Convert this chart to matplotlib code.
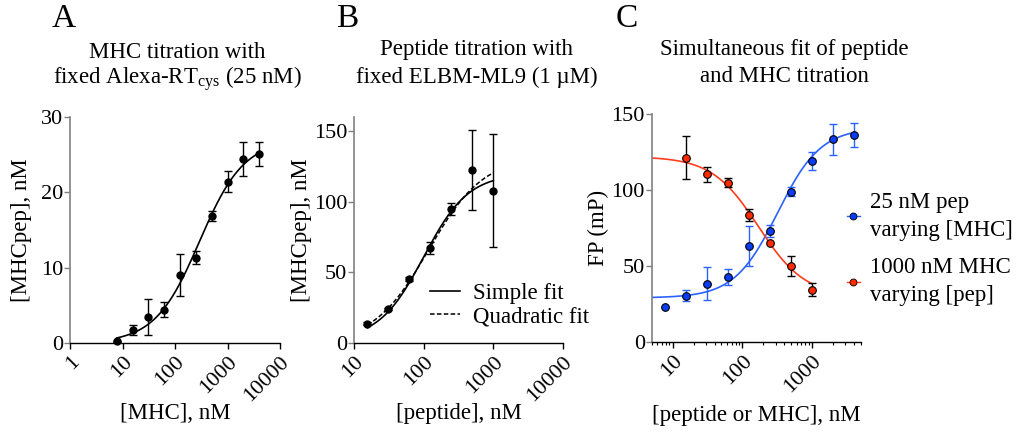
import numpy as np
import matplotlib
matplotlib.use("Agg")
import matplotlib.pyplot as plt
from matplotlib.ticker import LogLocator, NullFormatter, FixedLocator, FixedFormatter
from matplotlib.lines import Line2D

plt.rcParams['font.family'] = ['Liberation Serif', 'DejaVu Serif']
plt.rcParams['mathtext.fontset'] = 'custom'
plt.rcParams['mathtext.rm'] = 'Liberation Serif'

# ---------------- data ----------------
# Panel A: MHC titration
a_x = [7.8, 15.6, 31.25, 62.5, 125, 250, 500, 1000, 2000, 4000]
a_y = [0.2, 1.7, 3.5, 4.4, 9.0, 11.3, 16.9, 21.4, 24.4, 25.1]
a_err = [0.1, 0.7, 2.4, 1.0, 2.8, 0.85, 0.65, 1.4, 2.25, 1.6]
# fit parameters (quadratic binding): total probe, Kd
a_fit_P, a_fit_Kd = 27.0, 280.0

# Panel B: peptide titration
b_x = [15.6, 31.25, 62.5, 125, 250, 500, 1000]
b_y = [13.6, 24.1, 45.2, 67.2, 94.8, 122.5, 107.7]
b_err = [1.0, 1.0, 1.5, 4.5, 4.5, 28.6, 40.0]
# Simple fit (Hill): bottom, top, EC50, hill
b_simple = (2.0, 120.0, 100.0, 1.35)
# Quadratic fit: bottom, top, EC50, hill
b_quad = (0.0, 132.0, 118.0, 1.1)

# Panel C: simultaneous fit
c_blue_x = [7.8, 15.6, 31.25, 62.5, 125, 250, 500, 1000, 2000, 4000]
c_blue_y = [23.1, 30.3, 38.4, 42.8, 63.0, 73.3, 99.0, 119.2, 133.3, 136.1]
c_blue_err = [0.0, 3.6, 11.0, 5.0, 13.0, 4.0, 3.0, 6.0, 10.0, 7.7]
c_red_x = [15.6, 31.25, 62.5, 125, 250, 500, 1000]
c_red_y = [121.2, 110.2, 104.7, 83.4, 65.2, 50.1, 34.5]
c_red_err = [14.0, 5.0, 3.0, 4.0, 0.0, 6.5, 4.4]
# fits: value at low x, value at high x, EC50, hill
c_blue_fit = (29.0, 141.0, 320.0, 1.4)
c_red_fit = (122.0, 30.0, 170.0, 1.3)

blue_m = '#0b3cf5'
blue_l = '#2a62ff'
red_m = '#ff2a00'
red_l = '#ff3c1e'


def hill(x, p):
    b, t, ec, h = p
    return b + (t - b) * x**h / (ec**h + x**h)


def quad_bind(x, P, Kd):
    s = P + x + Kd
    return (s - np.sqrt(s**2 - 4 * P * x)) / 2


fig = plt.figure(figsize=(10.17, 4.36), dpi=100)
W, H = 1017, 436

TICK_FS = 16
LAB_FS = 16.5
TITLE_FS = 16.5


def mkax(x0, x1, ytop, ybot):
    return fig.add_axes([x0 / W, 1 - ybot / H, (x1 - x0) / W, (ybot - ytop) / H])


def style(ax, xlim, ylim, yticks, xtickvals):
    ax.set_xscale('log')
    ax.set_xlim(*xlim)
    ax.set_ylim(*ylim)
    for s in ('top', 'right'):
        ax.spines[s].set_visible(False)
    ax.spines['left'].set_color('#808080')
    ax.spines['left'].set_linewidth(1.2)
    ax.spines['bottom'].set_color('black')
    ax.spines['bottom'].set_linewidth(1.0)
    ax.set_yticks(yticks)
    ax.tick_params(axis='y', direction='out', length=4, width=1, color='#808080',
                   labelsize=TICK_FS, pad=1)
    ax.xaxis.set_major_locator(FixedLocator(xtickvals))
    ax.xaxis.set_major_formatter(FixedFormatter([str(int(v)) for v in xtickvals]))
    ax.xaxis.set_minor_locator(LogLocator(base=10, subs=np.arange(2, 10)))
    ax.xaxis.set_minor_formatter(NullFormatter())
    ax.tick_params(axis='x', which='major', direction='out', length=4, width=1,
                   labelsize=TICK_FS, pad=3)
    ax.tick_params(axis='x', which='minor', direction='out', length=2, width=0.8)
    for lab in ax.get_xticklabels():
        lab.set_rotation(45)
        lab.set_ha('right')
        lab.set_va('top')
        lab.set_rotation_mode('anchor')


def labels(ax, xl, yl, xl_y, yl_x):
    ax.set_xlabel(xl, fontsize=LAB_FS)
    ax.set_ylabel(yl, fontsize=LAB_FS)
    ax.xaxis.set_label_coords(0.5, xl_y)
    ax.xaxis.label.set_va('center')
    ax.yaxis.set_label_coords(yl_x, 0.5)
    ax.yaxis.label.set_va('center')


# ---------------- Panel A ----------------
axA = mkax(70, 280, 117, 343)
style(axA, (1, 10000), (0, 30), [0, 10, 20, 30], [1, 10, 100, 1000, 10000])
xs = np.logspace(np.log10(a_x[0]), np.log10(a_x[-1]), 300)
axA.plot(xs, quad_bind(xs, a_fit_P, a_fit_Kd), color='black', lw=1.2, zorder=2)
axA.errorbar(a_x, a_y, yerr=a_err, fmt='o', color='black', ms=5, capsize=3,
             elinewidth=1, capthick=1, zorder=3, clip_on=False)
labels(axA, '[MHC], nM', '[MHCpep], nM', (343 - 413) / 226, (22 - 70) / 210)
fig.text(177 / W, 1 - 52 / H, 'MHC titration with', ha='center', va='center',
         fontsize=TITLE_FS)
fig.text(177 / W, 1 - 79 / H, 'fixed Alexa-RT$_{\\mathrm{cys}}$ (25 nM)', ha='center',
         va='center', fontsize=TITLE_FS)
fig.text(52 / W, 1 - 19 / H, 'A', fontsize=24, ha='left', va='center')

# ---------------- Panel B ----------------
axB = mkax(354, 563, 117, 343)
style(axB, (10, 10000), (0, 160), [0, 50, 100, 150], [10, 100, 1000, 10000])
xs = np.logspace(np.log10(b_x[0]), np.log10(b_x[-1]), 300)
axB.plot(xs, hill(xs, b_simple), color='black', lw=1.2, zorder=2)
axB.plot(xs, hill(xs, b_quad), color='black', lw=1.1, ls=(0, (3, 1.5)), zorder=2)
axB.errorbar(b_x, b_y, yerr=b_err, fmt='o', color='black', ms=5, capsize=3,
             elinewidth=1, capthick=1, zorder=3)
labels(axB, '[peptide], nM', '[MHCpep], nM', (343 - 413) / 226, (301 - 354) / 209)
hs = Line2D([], [], color='black', lw=1.2)
hq = Line2D([], [], color='black', lw=1.1, ls=(0, (3, 1.5)))
fig.legend([hs, hq], ['Simple fit', 'Quadratic fit'], loc='center left',
           bbox_to_anchor=(430 / W, 1 - 305 / H), frameon=False, fontsize=LAB_FS,
           handlelength=1.3, handletextpad=0.57, labelspacing=0.1, borderpad=0,
           borderaxespad=0)
fig.text(477 / W, 1 - 50 / H, 'Peptide titration with', ha='center', va='center',
         fontsize=TITLE_FS)
fig.text(477 / W, 1 - 77 / H, 'fixed ELBM-ML9 (1 \u00b5M)', ha='center', va='center',
         fontsize=TITLE_FS)
fig.text(336 / W, 1 - 19 / H, 'B', fontsize=24, ha='left', va='center')

# ---------------- Panel C ----------------
axC = mkax(651.7, 860.7, 114, 342)
style(axC, (5, 5000), (0, 150), [0, 50, 100, 150], [10, 100, 1000])
xs = np.logspace(np.log10(5), np.log10(c_blue_x[-1]), 300)
axC.plot(xs, hill(xs, c_blue_fit), color=blue_l, lw=1.2, zorder=2)
xs2 = np.logspace(np.log10(5), np.log10(c_red_x[-1]), 300)
axC.plot(xs2, hill(xs2, c_red_fit), color=red_l, lw=1.2, zorder=2)
be = np.array(c_blue_err)
axC.errorbar(c_blue_x, c_blue_y, yerr=np.where(be > 0, be, np.nan), fmt='none',
             ecolor=blue_l, elinewidth=1, capsize=3, capthick=1, zorder=2.5)
re = np.array(c_red_err)
axC.errorbar(c_red_x, c_red_y, yerr=np.where(re > 0, re, np.nan), fmt='none',
             ecolor='black', elinewidth=1, capsize=3, capthick=1, zorder=2.5)
axC.plot(c_blue_x, c_blue_y, 'o', color=blue_m, mec='black', mew=0.8, ms=5.5, zorder=3)
axC.plot(c_red_x, c_red_y, 'o', color=red_m, mec='black', mew=0.8, ms=5.5, zorder=3)
labels(axC, '[peptide or MHC], nM', 'FP (mP)', (342 - 415) / 228, (598 - 651.7) / 209)
fig.text(784 / W, 1 - 50 / H, 'Simultaneous fit of peptide', ha='center', va='center',
         fontsize=TITLE_FS)
fig.text(784 / W, 1 - 76 / H, 'and MHC titration', ha='center', va='center',
         fontsize=TITLE_FS)
fig.text(616 / W, 1 - 19 / H, 'C', fontsize=24, ha='left', va='center')

# legend for panel C
h1 = Line2D([], [], color=blue_l, marker='o', mfc=blue_m, mec='black', mew=0.6, ms=5, lw=1)
h2 = Line2D([], [], color=red_l, marker='o', mfc=red_m, mec='black', mew=0.6, ms=5, lw=1)
legC = fig.legend([h1, h2], ['25 nM pep\nvarying [MHC]', '1000 nM MHC\nvarying [pep]'],
                  loc='upper left', bbox_to_anchor=(847 / W, 1 - 192 / H), frameon=False,
                  fontsize=16.5, handlelength=0.55, handletextpad=0.45, labelspacing=0.72,
                  borderpad=0, borderaxespad=0)
for t in legC.get_texts():
    t.set_linespacing(1.42)

fig.savefig('out.png', dpi=100)
